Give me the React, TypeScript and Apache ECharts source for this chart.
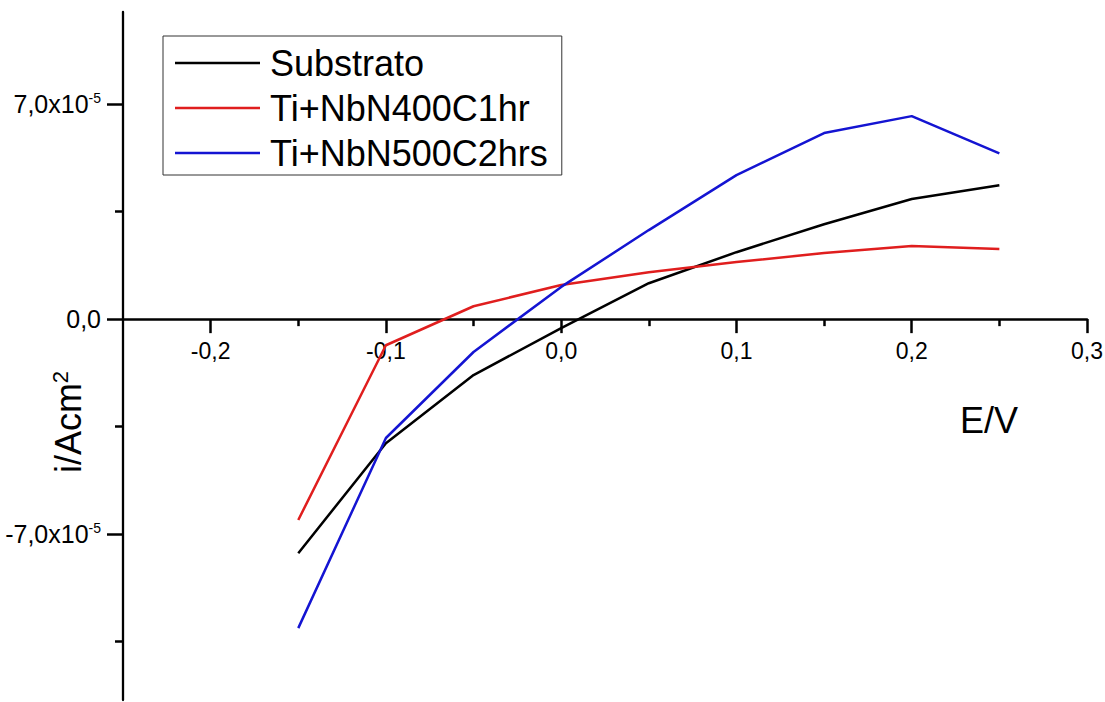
import React, { useEffect, useRef } from "react";
import * as echarts from "echarts";

const eValues = [-0.15, -0.1, -0.05, 0, 0.05, 0.1, 0.15, 0.2, 0.25];
// current density values in units of 1e-5 A/cm2
const substrato = [-7.62, -4.04, -1.82, -0.29, 1.17, 2.18, 3.09, 3.91, 4.36];
const tiNb400 = [-6.54, -0.85, 0.42, 1.11, 1.53, 1.86, 2.15, 2.38, 2.28];
const tiNb500 = [-10.06, -3.87, -1.07, 1.05, 2.9, 4.69, 6.06, 6.61, 5.4];

const seriesNames = ["Substrato", "Ti+NbN400C1hr", "Ti+NbN500C2hrs"];
const seriesColors = ["#000000", "#e01e1e", "#1414d2"];

const xMajorTicks = [-0.2, -0.1, 0.0, 0.1, 0.2, 0.3];
const xMajorLabels = ["-0,2", "-0,1", "0,0", "0,1", "0,2", "0,3"];
const xMinorTicks = [-0.15, -0.05, 0.05, 0.15, 0.25];
const yMajorTicks = [-7e-5, 0, 7e-5];
const yMajorMant = ["-7,0x10", "0,0", "7,0x10"];
const yMajorExp = ["-5", "", "-5"];
const yMinorTicks = [-10.5e-5, -3.5e-5, 3.5e-5];

const FONT = "Liberation Sans, Arial, sans-serif";

function nearestIndex(arr: number[], v: number) {
  let best = 0;
  for (let i = 1; i < arr.length; i++) {
    if (Math.abs(arr[i] - v) < Math.abs(arr[best] - v)) best = i;
  }
  return best;
}

export default function App() {
  const ref = useRef<HTMLDivElement>(null);
  useEffect(() => {
    if (!ref.current) return;
    const chart = echarts.init(ref.current, null, { renderer: "svg" });
    const allData = [substrato, tiNb400, tiNb500];
    const xMin = -0.25;
    const xMax = 0.3;
    const yMin = -12.4e-5;
    const yMax = 10e-5;
    const gridTop = 12;
    const gridBottom = 2;
    const gridH = 702 - gridTop - gridBottom;
    // distance (px) from the grid's bottom edge up to the y = 0 line
    const zeroOffset = -(gridH * (0 - yMin)) / (yMax - yMin);
    chart.setOption({
      animation: false,
      backgroundColor: "#ffffff",
      textStyle: { fontFamily: FONT },
      grid: {
        left: 123,
        right: 18,
        top: gridTop,
        bottom: gridBottom,
        containLabel: false,
        outerBoundsMode: "none",
      },
      legend: {
        orient: "vertical",
        left: 163,
        top: 36,
        padding: [9, 14, 4, 12],
        borderColor: "#333",
        borderWidth: 1,
        icon: "rect",
        itemWidth: 85,
        itemHeight: 2.5,
        itemGap: 9,
        data: seriesNames,
        textStyle: {
          fontSize: 36,
          lineHeight: 36,
          color: "#000",
          fontFamily: FONT,
          padding: [0, 0, 0, 5],
        },
      },
      xAxis: [
        {
          type: "value",
          min: xMin,
          max: xMax,
          position: "bottom",
          offset: zeroOffset,
          axisLine: { onZero: false, lineStyle: { color: "#000", width: 2.5 } },
          axisTick: {
            show: true,
            inside: false,
            length: 14,
            customValues: xMajorTicks,
            lineStyle: { color: "#000", width: 2.5 },
          },
          axisLabel: {
            customValues: xMajorTicks,
            margin: 20,
            fontSize: 23,
            color: "#000",
            fontFamily: FONT,
            formatter: (v: number) => xMajorLabels[nearestIndex(xMajorTicks, v)],
          },
          splitLine: { show: false },
        },
        {
          type: "value",
          min: xMin,
          max: xMax,
          position: "bottom",
          offset: zeroOffset,
          axisLine: { show: false, onZero: false },
          axisTick: {
            show: true,
            inside: false,
            length: 7,
            customValues: xMinorTicks,
            lineStyle: { color: "#000", width: 2.5 },
          },
          axisLabel: { show: false },
          splitLine: { show: false },
        },
      ],
      yAxis: [
        {
          type: "value",
          min: yMin,
          max: yMax,
          position: "left",
          axisLine: { onZero: false, lineStyle: { color: "#000", width: 2.3 } },
          axisTick: {
            show: true,
            length: 16,
            customValues: yMajorTicks,
            lineStyle: { color: "#000", width: 2.5 },
          },
          axisLabel: {
            customValues: yMajorTicks,
            margin: 22,
            color: "#000",
            fontFamily: FONT,
            formatter: (v: number) => {
              const i = nearestIndex(yMajorTicks, v);
              return yMajorExp[i]
                ? `{m|${yMajorMant[i]}}{s|${yMajorExp[i]}}`
                : `{m|${yMajorMant[i]}}`;
            },
            rich: {
              m: { fontSize: 25, lineHeight: 26, color: "#000", fontFamily: FONT },
              s: { fontSize: 14, lineHeight: 26, verticalAlign: "top", color: "#000", fontFamily: FONT },
            },
          },
          splitLine: { show: false },
        },
        {
          type: "value",
          min: yMin,
          max: yMax,
          position: "left",
          axisLine: { show: false, onZero: false },
          axisTick: {
            show: true,
            length: 8,
            customValues: yMinorTicks,
            lineStyle: { color: "#000", width: 2.5 },
          },
          axisLabel: { show: false },
          splitLine: { show: false },
        },
      ],
      series: seriesNames.map((name, si) => ({
        name,
        type: "line",
        xAxisIndex: 0,
        yAxisIndex: 0,
        symbol: "none",
        lineStyle: { color: seriesColors[si], width: 2.5 },
        itemStyle: { color: seriesColors[si] },
        data: eValues.map((e, i) => [e, allData[si][i] * 1e-5]),
      })),
      graphic: [
        {
          type: "text",
          x: 960,
          y: 420,
          style: {
            text: "E/V",
            fontSize: 36,
            fontFamily: FONT,
            fill: "#000",
            textAlign: "left",
            textVerticalAlign: "middle",
          },
        },
        {
          type: "text",
          x: 68,
          y: 422,
          rotation: Math.PI / 2,
          style: {
            text: "{a|i/Acm}{s|2}",
            fontFamily: FONT,
            fill: "#000",
            textAlign: "center",
            textVerticalAlign: "middle",
            rich: {
              a: { fontSize: 36, lineHeight: 38, fontFamily: FONT, fill: "#000" },
              s: { fontSize: 22, lineHeight: 38, verticalAlign: "top", fontFamily: FONT, fill: "#000" },
            },
          },
        },
      ],
    });
    return () => chart.dispose();
  }, []);
  return (
    <div
      ref={ref}
      style={{ position: "fixed", left: 0, top: 0, width: 1105, height: 702, background: "#fff" }}
    />
  );
}
